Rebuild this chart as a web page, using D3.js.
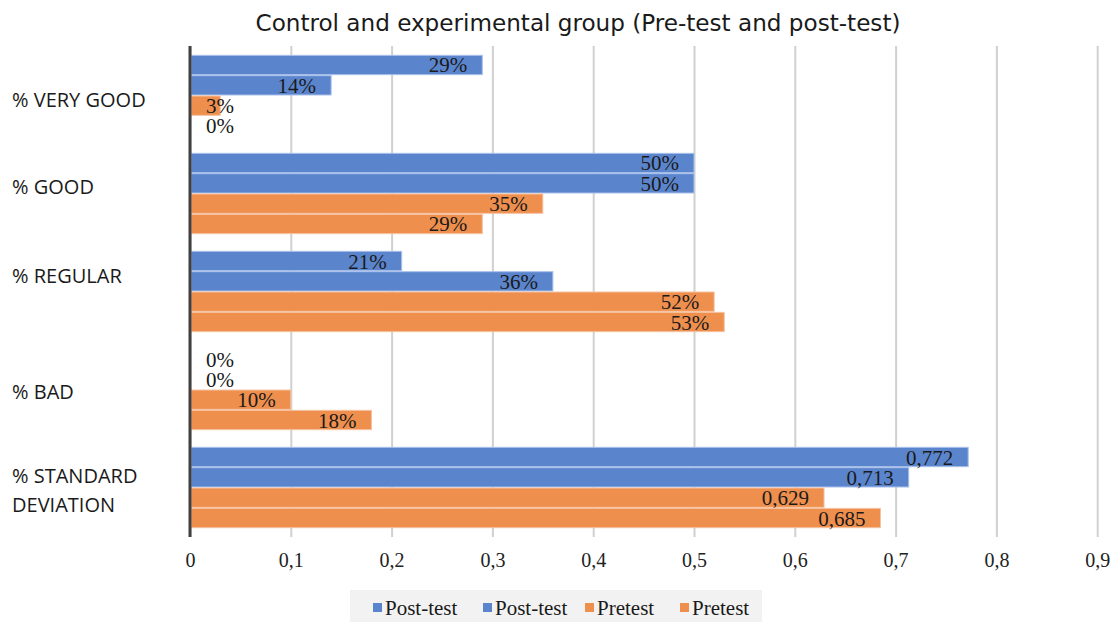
<!DOCTYPE html>
<html>
<head>
<meta charset="utf-8">
<script src="https://cdn.jsdelivr.net/npm/d3@7"></script>
<style>
  body { margin: 0; background: #fff; }
</style>
</head>
<body>
<div id="chart"></div>
<script>
// Chart data
let categories = ["% VERY GOOD", "% GOOD", "% REGULAR", "% BAD", "% STANDARD DEVIATION"];
let seriesNames = ["Post-test", "Post-test", "Pretest", "Pretest"];
let postTestA = [0.29, 0.50, 0.21, 0, 0.772];
let postTestB = [0.14, 0.50, 0.36, 0, 0.713];
let pretestA = [0.03, 0.35, 0.52, 0.10, 0.629];
let pretestB = [0, 0.29, 0.53, 0.18, 0.685];
let xTicks = [0, 0.1, 0.2, 0.3, 0.4, 0.5, 0.6, 0.7, 0.8, 0.9];

let series = [postTestA, postTestB, pretestA, pretestB];
let colors = ["#5a85cd", "#5a85cd", "#ef8f4e", "#ef8f4e"];

let svgWidth = 1112;
let svgHeight = 622;
let margin = { top: 46, right: 14, bottom: 85, left: 190 };
let width = svgWidth - margin.left - margin.right;
let height = svgHeight - margin.top - margin.bottom;

let svg = d3.select("#chart")
  .append("svg")
  .attr("width", svgWidth)
  .attr("height", svgHeight);

// Title
svg.append("text")
  .attr("x", 578)
  .attr("y", 31)
  .attr("text-anchor", "middle")
  .attr("textLength", 645)
  .attr("lengthAdjust", "spacingAndGlyphs")
  .style("font-family", "DejaVu Sans Condensed, DejaVu Sans")
  .style("font-size", "23px")
  .style("fill", "#1a1a1a")
  .text("Control and experimental group (Pre-test and post-test)");

let chartGroup = svg.append("g")
  .attr("transform", `translate(${margin.left}, ${margin.top})`);

// Scales
let xScale = d3.scaleLinear().domain([0, 0.9]).range([0, 0.9 / 0.1 * 100.8]);
let yScale = d3.scaleBand().domain(categories).range([0, height]).paddingInner(0.17).paddingOuter(0.09);
let ySub = d3.scaleBand().domain(d3.range(series.length)).range([0, yScale.bandwidth()]);

// Grid lines + tick labels
let xAxis = d3.axisBottom(xScale)
  .tickValues(xTicks)
  .tickSize(height)
  .tickFormat(d => d3.format(".1~f")(d).replace(".", ","));

let gridG = chartGroup.append("g").call(xAxis);
gridG.select(".domain").remove();
gridG.selectAll(".tick line")
  .attr("stroke", "#d0d0d0")
  .attr("stroke-width", 2);
gridG.selectAll(".tick text")
  .attr("y", height + 30)
  .attr("dy", 0)
  .style("font-family", "Liberation Serif, serif")
  .style("font-size", "20px")
  .style("fill", "#222");

// Bars and value labels
categories.forEach(function(cat, ci) {
  let g = chartGroup.append("g")
    .attr("transform", `translate(0, ${yScale(cat)})`);
  series.forEach(function(vals, si) {
    let v = vals[ci];
    if (v > 0) {
      g.append("rect")
        .attr("x", 1)
        .attr("y", ySub(si) + 0.5)
        .attr("width", xScale(v) - 1)
        .attr("height", ySub.bandwidth() - 1)
        .attr("fill", colors[si])
        .attr("stroke", si < 2 ? "#a9c0ea" : "#f6c2a0")
        .attr("stroke-width", 1);
    }
    let label = ci === 4 ? d3.format(".3f")(v).replace(".", ",") : Math.round(v * 100) + "%";
    g.append("text")
      .attr("x", Math.max(xScale(v) - 15, 44))
      .attr("y", ySub(si) + ySub.bandwidth() / 2 + 7.5)
      .attr("text-anchor", "end")
      .style("font-family", "Liberation Serif, serif")
      .style("font-size", "21px")
      .style("fill", "#1a1a1a")
      .text(label);
  });
});

// Vertical axis line
chartGroup.append("line")
  .attr("x1", 0).attr("x2", 0)
  .attr("y1", 0).attr("y2", height)
  .attr("stroke", "#404040")
  .attr("stroke-width", 3);

// Category labels (Excel puts them a little off the band centres)
let labelNudge = [5, -6, -16, 2, 3];
categories.forEach(function(cat, ci) {
  let yc = yScale(cat) + yScale.bandwidth() / 2 + labelNudge[ci];
  let words = cat === "% STANDARD DEVIATION" ? ["% STANDARD", "DEVIATION"] : [cat];
  let t = svg.append("text")
    .attr("x", 12)
    .attr("y", margin.top + yc + 7 - (words.length - 1) * 14.5)
    .style("font-family", "Open Sans")
    .style("font-size", "20px")
    .style("fill", "#1a1a1a");
  words.forEach(function(w, i) {
    t.append("tspan").attr("x", 12).attr("dy", i === 0 ? 0 : 29).text(w);
  });
});

// Legend
let legend = svg.append("g");
legend.append("rect")
  .attr("x", 350).attr("y", 590)
  .attr("width", 412).attr("height", 32)
  .attr("fill", "#f2f2f2");
let legendX = [373, 483, 585, 680];
seriesNames.forEach(function(name, i) {
  legend.append("rect")
    .attr("x", legendX[i]).attr("y", 603)
    .attr("width", 9).attr("height", 9)
    .attr("fill", colors[i]);
  legend.append("text")
    .attr("x", legendX[i] + 12)
    .attr("y", 615)
    .style("font-family", "Liberation Serif, serif")
    .style("font-size", "21px")
    .style("fill", "#1a1a1a")
    .text(name);
});
</script>
</body>
</html>
